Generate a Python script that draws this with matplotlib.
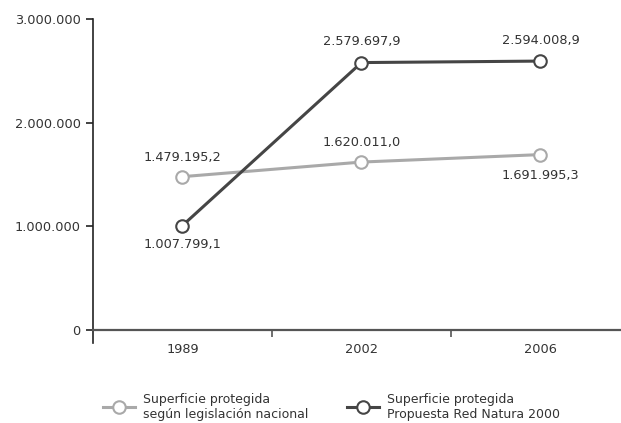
import matplotlib
matplotlib.use("Agg")
import matplotlib.pyplot as plt
from matplotlib.ticker import FuncFormatter, FixedLocator

years = ["1989", "2002", "2006"]
nacional = [1479195.2, 1620011.0, 1691995.3]
natura = [1007799.1, 2579697.9, 2594008.9]
label_nacional = "Superficie protegida\nsegún legislación nacional"
label_natura = "Superficie protegida\nPropuesta Red Natura 2000"

light = "#a9a9a9"
dark = "#454545"
txt = "#333333"

plt.rcParams["font.family"] = ["DejaVu Sans"]
plt.rcParams["font.size"] = 9.3


def fmt_num(v, dec=1):
    s = f"{v:,.{dec}f}"
    return s.replace(",", "X").replace(".", ",").replace("X", ".")


fig = plt.figure(figsize=(6.21, 4.23), dpi=100)
ax = fig.add_axes([93 / 621, 93 / 423, 1 - 93 / 621, (330 - 19) / 423])

x = list(range(len(years)))
ax.plot(x, nacional, color=light, lw=2.2, marker="o", ms=9,
        mfc="white", mec=light, mew=1.5, label=label_nacional, zorder=3)
ax.plot(x, natura, color=dark, lw=2.2, marker="o", ms=9,
        mfc="white", mec=dark, mew=1.5, label=label_natura, zorder=3)

# data labels
above_n = [True, True, False]
above_d = [False, True, True]
for i, v in enumerate(nacional):
    off = 14 if above_n[i] else -15
    ax.annotate(fmt_num(v), (i, v), xytext=(0, off), textcoords="offset points",
                ha="center", va="center", color=txt)
for i, v in enumerate(natura):
    off = 15 if above_d[i] else -14
    ax.annotate(fmt_num(v), (i, v), xytext=(0, off), textcoords="offset points",
                ha="center", va="center", color=txt)

ax.set_xlim(-0.5, 2.45)
ax.set_ylim(0, 3000000)
ax.set_yticks([0, 1000000, 2000000, 3000000])
ax.yaxis.set_major_formatter(FuncFormatter(lambda v, p: fmt_num(v, 0)))
ax.set_xticks(x)
ax.set_xticklabels(years)
ax.xaxis.set_minor_locator(FixedLocator([0.5, 1.5]))
ax.tick_params(axis="x", which="major", length=0, pad=9, colors=txt)
ax.tick_params(axis="x", which="minor", length=5, width=1.2, color="#555555")
ax.tick_params(axis="y", length=5, width=1.2, color="#222222", colors=txt, pad=4)
for sp in ["top", "right"]:
    ax.spines[sp].set_visible(False)
ax.spines["left"].set_color("#222222")
ax.spines["left"].set_linewidth(1.2)
ax.spines["left"].set_bounds(-130000, 3000000)
ax.spines["bottom"].set_color("#555555")
ax.spines["bottom"].set_linewidth(1.6)

fig.legend(loc="lower left", bbox_to_anchor=(92 / 621, -9 / 423), ncol=2, frameon=False,
           handlelength=2.5, columnspacing=3.15, handletextpad=0.65, fontsize=9,
           labelspacing=0.4, labelcolor=txt)

fig.savefig("out.png", dpi=100)
